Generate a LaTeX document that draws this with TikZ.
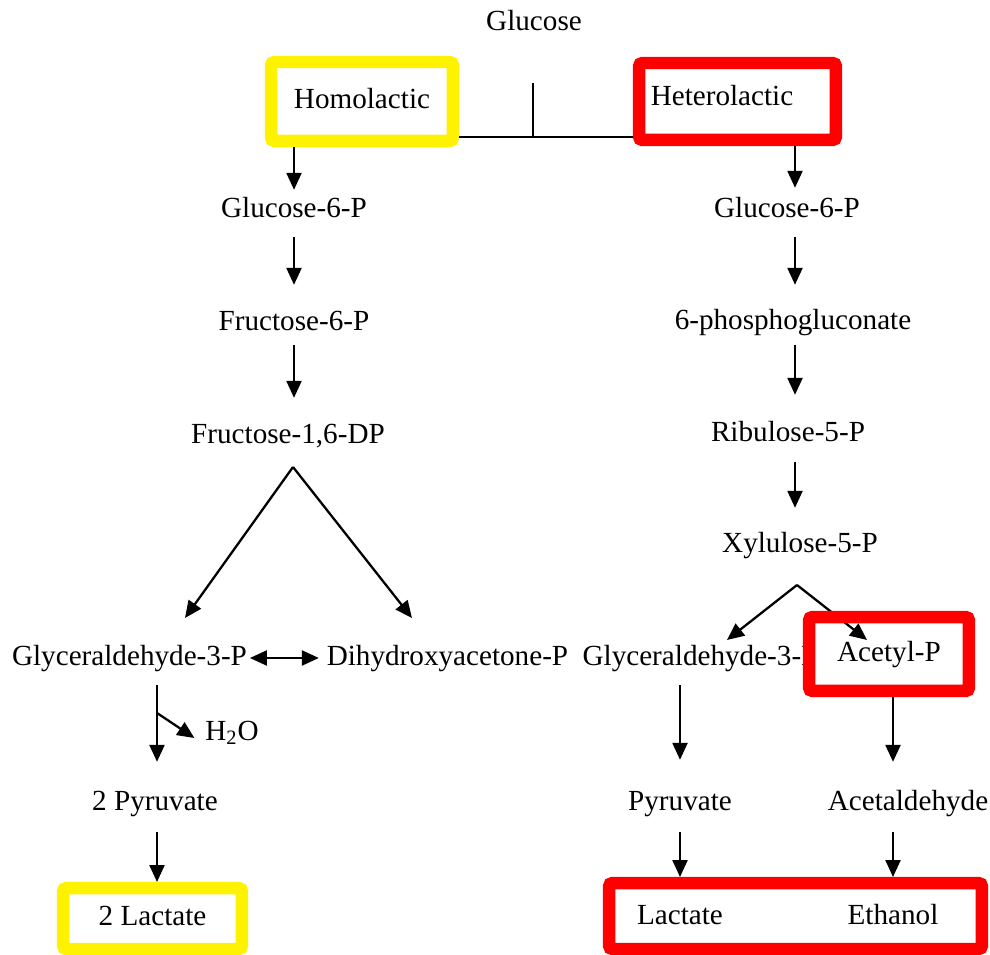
\documentclass[tikz,border=0pt]{standalone}
\usepackage{fontspec}
\setmainfont{Liberation Serif}
\usetikzlibrary{arrows.meta,calc}

\begin{document}
\begin{tikzpicture}[x=0.02cm,y=-0.02cm,inner sep=0pt,outer sep=0pt,line width=1.3pt,
met/.style={font=\fontsize{16.6}{20}\selectfont,text height=11.5pt,text depth=3.5pt},
ybox/.style={met,draw=yellow,line width=0.25cm,rounded corners=2pt},
rbox/.style={met,draw=red,line width=0.25cm,rounded corners=2pt},
flow/.style={-{Triangle[length=0.34cm,width=0.3cm]},shorten <=0.25cm,shorten >=0.5cm}]
\useasboundingbox (0,0) rectangle (990,955);
\coordinate (colR) at (795,0);
\coordinate (colA) at (893,0);
% top split
\draw (534,23) node[met] (glc) {Glucose};
\draw (362,101.5) node[ybox,minimum width=3.64cm,minimum height=1.58cm] (homoBox) {Homolactic};
\draw (737.5,101.5) node[rbox,minimum width=3.94cm,minimum height=1.54cm] (heteroBox) {};
\draw (722,98) node[met] (hetero) {Heterolactic};
\coordinate (stem) at (533,83);
\coordinate (fork) at (533,137);
\draw (stem) -- (fork);
\draw[shorten <=0.12cm,shorten >=0.12cm] (homoBox.east |- fork) -- (heteroBox.west |- fork);
% homolactic branch
\draw (294,210) node[met] (g6pL) {Glucose-6-P};
\draw (294,323) node[met] (f6pL) {Fructose-6-P};
\draw (288,436) node[met] (f16dp) {Fructose-1,6-DP};
\draw (129.5,658) node[met] (g3pL) {Glyceraldehyde-3-P};
\draw (447.5,658) node[met] (dhap) {Dihydroxyacetone-P};
\draw (232,733) node[met] (h2o) {H\textsubscript{2}O};
\draw (155,803) node[met] (pyrL) {2 Pyruvate};
\draw (152.5,918.5) node[ybox,minimum width=3.58cm,minimum height=1.22cm] (lactBox) {2 Lactate};
\draw[flow,shorten <=0.12cm,shorten >=0.14cm] (homoBox.south -| g6pL) -- (g6pL);
\draw[flow,shorten <=0.28cm] (g6pL) -- (f6pL);
\draw[flow,shorten <=0.18cm] (f6pL) -- (f6pL |- f16dp.north);
\coordinate (apexL) at (293,467);
\coordinate (g3pIn) at (185,618);
\coordinate (dhapIn) at (412,618);
\draw[flow,shorten <=0pt,shorten >=0pt] (apexL) -- (g3pIn);
\draw[flow,shorten <=0pt,shorten >=0pt] (apexL) -- (dhapIn);
\draw[{Triangle[length=0.34cm,width=0.3cm]}-{Triangle[length=0.34cm,width=0.3cm]},shorten <=0.06cm,shorten >=0.16cm] (g3pL.east) -- (dhap.west);
\draw[flow,shorten <=0.28cm,shorten >=0.56cm] ([xshift=0.04cm]pyrL |- g3pL.south) -- ([xshift=0.04cm]pyrL.north);
\coordinate (brkL) at (157,713);
\draw[flow,shorten <=0pt,shorten >=0pt] (brkL) -- ($(h2o.west)+(-11,5)$);
\draw[flow,shorten <=0.32cm,shorten >=0.12cm] ([xshift=0.04cm]pyrL.south) -- ([xshift=0.04cm]pyrL |- lactBox.north);
% heterolactic branch
\draw (787,210) node[met] (g6pR) {Glucose-6-P};
\draw (793,322) node[met] (pg) {6-phosphogluconate};
\draw (788,434) node[met] (ru5p) {Ribulose-5-P};
\draw (800,545) node[met] (xu5p) {Xylulose-5-P};
\draw (700,658) node[met] (g3pR) {Glyceraldehyde-3-P};
\draw (889,654) node[fill=white,minimum width=3.45cm,minimum height=1.73cm] (accFill) {};
\draw (680,803) node[met] (pyrR) {Pyruvate};
\draw (908,803) node[met] (acald) {Acetaldehyde};
\draw (795.5,916) node[rbox,minimum width=7.46cm,minimum height=1.32cm] (endBox) {};
\draw (680,917) node[met] (lactR) {Lactate};
\draw (893,917) node[met] (etoh) {Ethanol};
\draw[flow,shorten <=0.12cm,shorten >=0.18cm] (heteroBox.south -| colR) -- (g6pR.north -| colR);
\draw[flow,shorten <=0.28cm,shorten >=0.48cm] (g6pR.south -| colR) -- (pg.north -| colR);
\draw[flow,shorten <=0.2cm,shorten >=0.52cm] (pg.south -| colR) -- (ru5p.north -| colR);
\draw[flow,shorten <=0.3cm,shorten >=0.48cm] (ru5p.south -| colR) -- (xu5p.north -| colR);
\coordinate (apexR) at (797,585);
\coordinate (g3pRIn) at (727,640);
\coordinate (accIn) at (867,640);
\draw[flow,shorten <=0pt,shorten >=0pt] (apexR) -- (g3pRIn);
\draw[flow,shorten <=0pt,shorten >=0pt] (apexR) -- (accIn);
\draw (889,654) node[rbox,minimum width=3.2cm,minimum height=1.48cm] (accBox) {Acetyl-P};
\draw[flow,shorten <=0.28cm,shorten >=0.6cm] (pyrR |- g3pR.south) -- (pyrR.north);
\draw[flow,shorten <=0.32cm,shorten >=0.12cm] (pyrR.south) -- (pyrR |- endBox.north);
\draw[flow,shorten <=0.12cm,shorten >=0.56cm] (accBox.south -| colA) -- (acald.north -| colA);
\draw[flow,shorten <=0.32cm,shorten >=0.12cm] (acald.south -| colA) -- (endBox.north -| colA);
\end{tikzpicture}
\end{document}
